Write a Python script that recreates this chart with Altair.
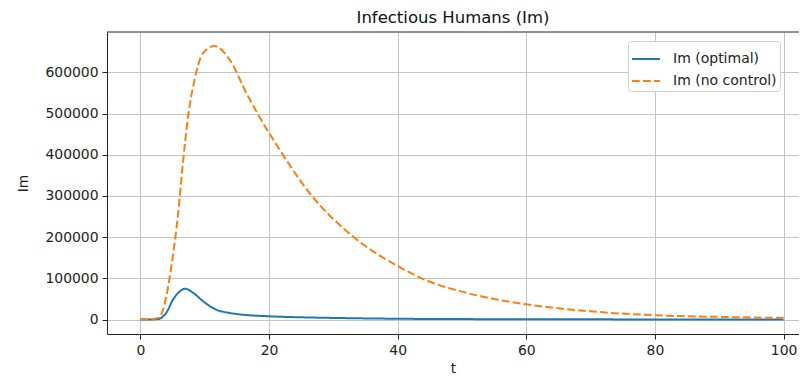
import altair as alt
import pandas as pd

# Series "Im (optimal)"
t_opt = [0, 1, 2, 2.5, 3, 4, 5.05, 6.1, 6.9, 8.2, 9.7, 11.8, 13.9, 16.5, 20, 25, 30, 40, 50, 60, 80, 100]
im_opt = [0, 100, 500, 1000, 2500, 16000, 48000, 68000, 75000, 65000, 45000, 24000, 16000, 11000, 8000, 5500, 4000, 2000, 1200, 800, 400, 200]

# Series "Im (no control)"
t_nc = [0, 1, 2, 3, 4, 5, 5.8, 6.6, 7.4, 8.4, 9.7, 11.5, 13.9, 16.5, 19.1, 21.7, 26.3, 33.1, 40, 44.5, 49.7, 55, 60, 70, 80, 90, 100]
im_nc = [0, 200, 1500, 7000, 55000, 150000, 249000, 379000, 492000, 581000, 646000, 664000, 630000, 549000, 476000, 411000, 307000, 201000, 130000, 95000, 69000, 50000, 37000, 20000, 10500, 6500, 4000]

series_names = ["Im (optimal)", "Im (no control)"]
series_colors = ["#1f77b4", "#ff7f0e"]
x_ticks = [0, 20, 40, 60, 80, 100]
y_ticks = [0, 100000, 200000, 300000, 400000, 500000, 600000]

df = pd.concat([
    pd.DataFrame({"t": t_opt, "Im": im_opt, "series": series_names[0]}),
    pd.DataFrame({"t": t_nc, "Im": im_nc, "series": series_names[1]}),
])

FONT = "DejaVu Sans"
W, H = 692, 302

legend_kw = dict(title=None, orient="none", legendX=521, legendY=9,
                 symbolType="stroke", symbolSize=784, symbolStrokeWidth=2,
                 labelFontSize=14, labelFont=FONT, rowPadding=-3,
                 labelOffset=12, fillColor="white", strokeColor="#d0d0d0",
                 cornerRadius=3, padding=3, labelColor="#222")

lines = alt.Chart(df).mark_line(strokeWidth=2, interpolate="monotone").encode(
    x=alt.X("t:Q", scale=alt.Scale(domain=[-5.2, 102.4], nice=False, zero=False),
            axis=alt.Axis(values=x_ticks, title="t", format="d", tickSize=5,
                          labelPadding=4, titlePadding=5, grid=True)),
    y=alt.Y("Im:Q", scale=alt.Scale(domain=[-35000, 698000], nice=False, zero=False),
            axis=alt.Axis(values=y_ticks, title="Im", format="d", tickSize=5,
                          labelPadding=4, titlePadding=14, grid=True)),
    color=alt.Color("series:N", scale=alt.Scale(domain=series_names, range=series_colors),
                    legend=alt.Legend(**legend_kw)),
    strokeDash=alt.StrokeDash("series:N", scale=alt.Scale(domain=series_names, range=[[1, 0], [7.7, 3.3]]),
                              legend=alt.Legend(**legend_kw)),
)

top_border = alt.Chart(pd.DataFrame({"k": [0]})).mark_rule(color="#222", strokeWidth=1).encode(
    x=alt.value(0), x2=alt.value(W), y=alt.value(0)
)

chart = alt.layer(lines, top_border).properties(
    width=W, height=H,
    title=alt.TitleParams("Infectious Humans (Im)", fontSize=16.5, fontWeight="normal",
                          font=FONT, anchor="middle", offset=5, color="#111"),
    autosize=alt.AutoSizeParams(type="none"),
    padding={"left": 99, "top": 24, "right": 0, "bottom": 43},
).configure_view(stroke=None).configure_axis(
    labelFont=FONT, titleFont=FONT, labelFontSize=13.9, titleFontSize=13.9,
    labelColor="#222", titleColor="#222", titleFontWeight="normal",
    domainColor="#222", tickColor="#222", gridColor="#c4c4c4", gridWidth=1,
    domainWidth=1, tickWidth=1,
)

chart.save("out.html", embed_options={"renderer": "svg", "actions": False})
